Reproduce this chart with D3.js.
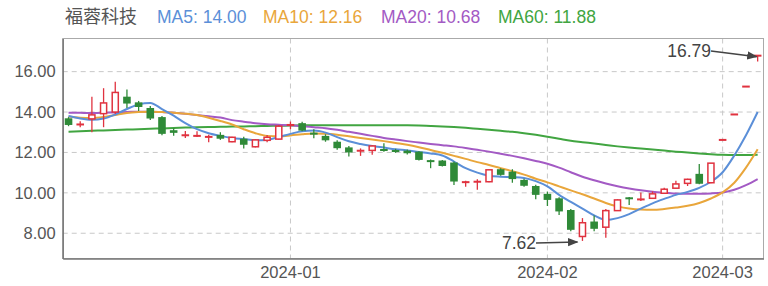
<!DOCTYPE html>
<html>
<head>
<meta charset="utf-8">
<script src="https://cdn.jsdelivr.net/npm/d3@7/dist/d3.min.js"></script>
<style>
  html, body { margin: 0; padding: 0; background: #fff; }
  svg { display: block; font-family: "Liberation Sans", Arial, sans-serif; }
</style>
</head>
<body>
<svg id="chart" width="768" height="286"></svg>
<script>
// ---------- data ----------
const title = "福蓉科技";
const dates = [
  "2023-12-05","2023-12-06","2023-12-07","2023-12-08","2023-12-11","2023-12-12","2023-12-13","2023-12-14","2023-12-15",
  "2023-12-18","2023-12-19","2023-12-20","2023-12-21","2023-12-22","2023-12-25","2023-12-26","2023-12-27","2023-12-28","2023-12-29",
  "2024-01-02","2024-01-03","2024-01-04","2024-01-05","2024-01-08","2024-01-09","2024-01-10","2024-01-11","2024-01-12",
  "2024-01-15","2024-01-16","2024-01-17","2024-01-18","2024-01-19","2024-01-22","2024-01-23","2024-01-24","2024-01-25","2024-01-26",
  "2024-01-29","2024-01-30","2024-01-31",
  "2024-02-01","2024-02-02","2024-02-05","2024-02-06","2024-02-07","2024-02-08","2024-02-19","2024-02-20","2024-02-21",
  "2024-02-22","2024-02-23","2024-02-26","2024-02-27","2024-02-28","2024-02-29",
  "2024-03-01","2024-03-04","2024-03-05","2024-03-06"
];
const open  = [13.69,13.35,13.66,13.92,14.00,14.76,14.48,14.20,13.75,13.10,12.80,12.78,12.72,12.87,12.53,12.68,12.28,12.60,12.66,13.32,
               13.45,12.98,12.82,12.53,12.25,12.05,12.10,12.17,12.12,12.09,12.04,11.62,11.60,11.50,10.48,10.50,10.55,11.17,11.05,10.64,
               10.34,9.95,9.73,9.15,7.84,8.58,8.30,9.12,9.78,9.62,9.73,9.98,10.23,10.47,10.94,10.50,12.62,13.88,15.26,16.79];
const close = [13.36,13.42,13.86,14.45,14.97,14.42,14.25,13.68,12.92,12.97,12.90,12.86,12.82,12.68,12.75,12.38,12.62,12.75,13.30,13.40,
               13.08,12.90,12.60,12.21,12.00,12.12,12.32,12.10,12.03,11.96,11.63,11.55,11.33,10.56,10.58,10.60,11.14,10.89,10.68,10.35,
               9.90,9.65,9.08,8.17,8.52,8.22,9.12,9.65,9.70,9.73,9.95,10.18,10.44,10.67,10.45,11.47,12.62,13.88,15.26,16.79];
const high  = [13.75,13.55,14.76,15.18,15.50,15.12,14.55,14.30,13.80,13.20,13.06,13.05,12.88,13.00,12.78,12.78,12.65,12.86,13.36,13.53,
               13.52,13.15,12.90,12.60,12.32,12.20,12.35,12.45,12.18,12.14,12.06,11.65,11.62,11.55,10.60,10.67,11.16,11.22,11.17,10.70,
               10.40,10.06,9.78,9.20,8.75,8.88,9.20,9.68,9.80,10.02,10.07,10.25,10.60,10.70,11.43,11.48,12.62,13.88,15.26,16.79];
const low   = [13.30,13.25,13.00,13.25,13.90,14.20,14.05,13.60,12.85,12.83,12.72,12.76,12.50,12.62,12.50,12.20,12.25,12.50,12.64,13.15,
               13.05,12.70,12.53,12.13,11.80,11.83,11.88,12.04,11.98,11.90,11.60,11.22,11.30,10.39,10.30,10.15,10.52,10.85,10.50,10.30,
               9.68,9.35,8.90,8.10,7.62,8.10,7.78,9.10,9.40,9.60,9.70,9.96,10.20,10.34,10.42,10.48,12.62,13.88,15.26,16.50];
const ma5  = [13.80,13.68,13.62,13.68,13.88,14.15,14.38,14.45,14.15,13.82,13.45,13.15,12.95,12.82,12.72,12.66,12.60,12.62,12.76,12.92,
              13.05,13.08,12.98,12.76,12.55,12.42,12.32,12.24,12.16,12.10,12.02,11.95,11.85,11.55,11.22,11.00,10.85,10.80,10.78,10.74,
              10.58,10.32,9.90,9.55,9.22,8.88,8.66,8.75,8.95,9.22,9.48,9.70,9.90,10.05,10.25,10.55,11.02,11.85,12.85,14.00];
const ma10 = [13.78,13.72,13.70,13.75,13.85,13.95,14.00,14.02,14.00,13.97,13.92,13.85,13.72,13.56,13.38,13.15,12.95,12.82,12.80,12.84,
              12.90,12.94,12.93,12.88,12.80,12.72,12.64,12.56,12.47,12.38,12.26,12.12,11.98,11.83,11.68,11.52,11.38,11.22,11.07,10.90,
              10.70,10.52,10.32,10.12,9.93,9.72,9.50,9.33,9.22,9.17,9.16,9.20,9.27,9.36,9.50,9.72,10.02,10.50,11.25,12.16];
const ma20 = [13.97,13.96,13.95,13.96,13.98,14.00,14.02,14.02,14.00,13.96,13.91,13.85,13.79,13.73,13.60,13.52,13.45,13.40,13.37,13.34,
              13.30,13.25,13.20,13.12,13.02,12.92,12.82,12.72,12.64,12.56,12.49,12.42,12.36,12.30,12.22,12.13,12.04,11.94,11.83,11.71,
              11.58,11.44,11.25,11.02,10.80,10.62,10.46,10.33,10.22,10.13,10.06,10.01,9.97,9.95,9.95,9.97,10.02,10.15,10.38,10.68];
const ma60 = [13.03,13.05,13.07,13.09,13.11,13.13,13.15,13.17,13.19,13.21,13.23,13.25,13.26,13.27,13.28,13.29,13.30,13.31,13.32,13.33,
              13.34,13.34,13.35,13.35,13.35,13.35,13.35,13.35,13.34,13.34,13.33,13.31,13.29,13.26,13.22,13.17,13.12,13.07,13.02,12.95,
              12.87,12.78,12.68,12.58,12.51,12.44,12.37,12.30,12.24,12.19,12.14,12.09,12.04,12.00,11.95,11.91,11.88,11.87,11.87,11.88];
const maNames  = ["MA5","MA10","MA20","MA60"];
const maLast   = ["14.00","12.16","10.68","11.88"];
const yTicks   = [8, 10, 12, 14, 16];
const xTickDates  = ["2024-01-02","2024-02-01","2024-03-01"];
const xTickLabels = ["2024-01","2024-02","2024-03"];
const maxLabel = "16.79", minLabel = "7.62";

// ---------- layout ----------
const svg = d3.select("#chart");
const L = 62.7, R = 763.5, T = 38.5, B = 258.5;
const x = d3.scaleBand().domain(dates).range([L, R]).paddingInner(0.35).paddingOuter(0.175);
const xc = d => x(d) + x.bandwidth() / 2;
const y = d3.scaleLinear().domain([6.75, 17.64]).range([B, T]);

const colors = { ma5: "#5b8fd8", ma10: "#e9a63b", ma20: "#a35ac4", ma60: "#41a541",
                 up: "#e0323f", down: "#2f8a38", text: "#555", grid: "#c8c8c8" };

// grid
const g = svg.append("g");
g.selectAll(".hg").data(yTicks).join("line")
  .attr("x1", L).attr("x2", R).attr("y1", d => y(d)).attr("y2", d => y(d))
  .attr("stroke", colors.grid).attr("stroke-width", 1).attr("stroke-dasharray", "5,4");
g.selectAll(".vg").data(xTickDates).join("line")
  .attr("x1", d => xc(d)).attr("x2", d => xc(d)).attr("y1", T).attr("y2", B)
  .attr("stroke", colors.grid).attr("stroke-width", 1).attr("stroke-dasharray", "5,4");

// frame
svg.append("rect").attr("x", L).attr("y", T).attr("width", R - L).attr("height", B - T)
  .attr("fill", "none").attr("stroke", "#aaa").attr("stroke-width", 1);

// axes
const yAxis = d3.axisLeft(y).tickValues(yTicks).tickFormat(d3.format(".2f")).tickSize(0).tickPadding(7);
const ya = svg.append("g").attr("transform", `translate(${L},0)`).call(yAxis);
ya.select(".domain").attr("stroke", "#777").attr("stroke-width", 1.5);
ya.selectAll("text").attr("font-size", 16.5).attr("fill", colors.text)
  .attr("font-family", '"Liberation Sans", Arial, sans-serif');

const xAxis = d3.axisBottom(x).tickValues(xTickDates)
  .tickFormat(d => xTickLabels[xTickDates.indexOf(d)]).tickSize(0).tickPadding(8);
const xa = svg.append("g").attr("transform", `translate(0,${B})`).call(xAxis);
xa.select(".domain").attr("stroke", "#777").attr("stroke-width", 1.5);
xa.selectAll("text").attr("font-size", 16.5).attr("fill", colors.text)
  .attr("font-family", '"Liberation Sans", Arial, sans-serif');

// MA lines
const line = arr => d3.line().x((d, i) => xc(dates[i])).y(d => y(d)).curve(d3.curveMonotoneX)(arr);
[[ma60, colors.ma60], [ma20, colors.ma20], [ma10, colors.ma10], [ma5, colors.ma5]].forEach(([arr, c]) => {
  svg.append("path").attr("d", line(arr)).attr("fill", "none").attr("stroke", c).attr("stroke-width", 2);
});

// candles
const bw = x.bandwidth();
const candles = svg.append("g").selectAll("g").data(dates).join("g");
candles.each(function(d, i) {
  const up = close[i] >= open[i];
  const c = up ? colors.up : colors.down;
  const gg = d3.select(this);
  const top = y(Math.max(open[i], close[i]));
  const bot = y(Math.min(open[i], close[i]));
  gg.append("line").attr("x1", xc(d)).attr("x2", xc(d))
    .attr("y1", y(high[i])).attr("y2", y(low[i])).attr("stroke", c).attr("stroke-width", 1.3);
  const h = Math.max(bot - top, 1.5);
  if (up) {
    if (bot - top < 2.5) {
      gg.append("rect").attr("x", x(d)).attr("y", (top + bot) / 2 - 1).attr("width", bw).attr("height", 2).attr("fill", c);
    } else {
      gg.append("rect").attr("x", x(d) + 0.75).attr("y", top).attr("width", bw - 1.5).attr("height", h)
        .attr("fill", "#fff").attr("stroke", c).attr("stroke-width", 1.5);
    }
  } else {
    gg.append("rect").attr("x", x(d)).attr("y", top).attr("width", bw).attr("height", Math.max(h, 2)).attr("fill", c);
  }
});

// annotations
svg.append("defs").append("marker").attr("id", "arr").attr("viewBox", "0 0 10 10")
  .attr("refX", 9).attr("refY", 5).attr("markerWidth", 7).attr("markerHeight", 7).attr("orient", "auto")
  .append("path").attr("d", "M0,1 L10,5 L0,9 z").attr("fill", "#444");
const iMax = close.indexOf(d3.max(high)), iMin = low.indexOf(d3.min(low));
svg.append("line").attr("x1", 711).attr("y1", 51).attr("x2", xc(dates[iMax]) - 1).attr("y2", y(high[iMax]) + 1)
  .attr("stroke", "#444").attr("stroke-width", 1.5).attr("marker-end", "url(#arr)");
svg.append("text").attr("x", 711).attr("y", 51).attr("dy", "0.35em").attr("text-anchor", "end")
  .attr("font-size", 17.5).attr("fill", "#444").text(maxLabel);
svg.append("line").attr("x1", 536).attr("y1", 243).attr("x2", xc(dates[iMin]) - 5).attr("y2", y(low[iMin]) + 1)
  .attr("stroke", "#444").attr("stroke-width", 1.5).attr("marker-end", "url(#arr)");
svg.append("text").attr("x", 536).attr("y", 243).attr("dy", "0.35em").attr("text-anchor", "end")
  .attr("font-size", 17.5).attr("fill", "#444").text(minLabel);

// legend
const lg = svg.append("g");
lg.append("text").attr("x", 65).attr("y", 17).attr("dy", "0.35em").attr("font-size", 18)
  .attr("font-family", '"Noto Sans CJK SC", sans-serif').attr("fill", colors.text).text(title);
const lx = [157, 263, 381, 498];
const lc = [colors.ma5, colors.ma10, colors.ma20, colors.ma60];
maNames.forEach((n, k) => {
  lg.append("text").attr("x", lx[k]).attr("y", 17).attr("dy", "0.35em").attr("font-size", 17.5)
    .attr("fill", lc[k]).text(`${n}: ${maLast[k]}`);
});
</script>
</body>
</html>
